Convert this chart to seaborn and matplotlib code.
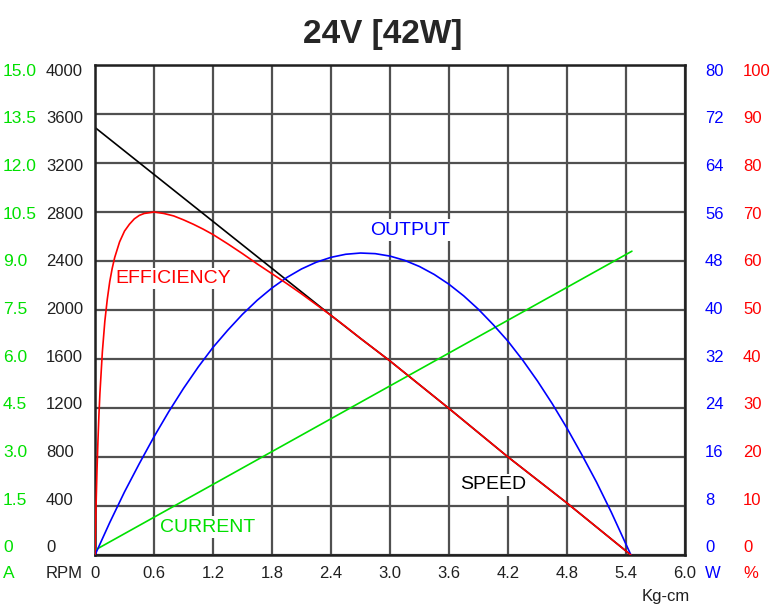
import matplotlib
matplotlib.use("Agg")
import matplotlib.pyplot as plt
import matplotlib.transforms as mtransforms
import seaborn as sns

# values (torque in Kg-cm)
torque_speed = [0.0, 2.4, 2.7, 3.0, 3.6, 4.2, 4.8, 5.45]
speed_rpm = [3490, 1956, 1768, 1584, 1196, 800, 424, 0]

torque_current = [0.0, 5.46]
current_a = [0.15, 9.3]

torque_output = [0.0, 0.15, 0.3, 0.45, 0.6, 0.75, 0.9, 1.05, 1.2, 1.35, 1.5,
                 1.65, 1.8, 1.95, 2.1, 2.25, 2.4, 2.55, 2.7, 2.85, 3.0, 3.15,
                 3.3, 3.45, 3.6, 3.75, 3.9, 4.05, 4.2, 4.35, 4.5, 4.65, 4.8,
                 4.95, 5.1, 5.25, 5.35, 5.45]
output_w = [0.0, 5.3, 10.3, 14.9, 19.3, 23.4, 27.2, 30.7, 33.9, 36.7, 39.3,
            41.6, 43.6, 45.3, 46.7, 47.8, 48.6, 49.1, 49.3, 49.2, 48.8, 48.1,
            47.1, 45.8, 44.2, 42.3, 40.1, 37.6, 34.9, 31.8, 28.4, 24.7, 20.7,
            16.4, 11.9, 7.0, 3.5, 0.0]

torque_eff = [0.0, 0.005, 0.01, 0.02, 0.03, 0.04, 0.05, 0.075, 0.1, 0.125,
              0.15, 0.175, 0.2, 0.25, 0.3, 0.35, 0.4, 0.45, 0.5, 0.6, 0.7,
              0.8, 0.9, 1.0, 1.1, 1.2, 1.35, 1.5, 1.65, 1.8, 1.95, 2.1, 2.25,
              2.4, 2.55, 2.7, 3.0, 3.6, 4.2, 4.8, 5.45]
eff_pct = [0.0, 5.0, 9.5, 17.1, 23.3, 28.6, 33.0, 41.5, 47.7, 52.2,
           55.8, 58.5, 60.7, 63.9, 66.1, 67.5, 68.6, 69.3, 69.7, 70.0, 69.7,
           69.2, 68.4, 67.5, 66.5, 65.4, 63.5, 61.5, 59.4, 57.4, 55.4, 53.3, 51.1,
           48.9, 46.6, 44.2, 39.6, 29.9, 20.0, 10.6, 0.0]

x_ticks = [0, 0.6, 1.2, 1.8, 2.4, 3.0, 3.6, 4.2, 4.8, 5.4, 6.0]
x_labels = ["0", "0.6", "1.2", "1.8", "2.4", "3.0", "3.6", "4.2", "4.8", "5.4", "6.0"]
rpm_ticks = [0, 400, 800, 1200, 1600, 2000, 2400, 2800, 3200, 3600, 4000]
amp_labels = ["0", "1.5", "3.0", "4.5", "6.0", "7.5", "9.0", "10.5", "12.0", "13.5", "15.0"]
watt_labels = ["0", "8", "16", "24", "32", "40", "48", "56", "64", "72", "80"]
pct_labels = ["0", "10", "20", "30", "40", "50", "60", "70", "80", "90", "100"]

GREEN = "#00e000"
BLUE = "#0000ff"
RED = "#ff0000"
GRID = "#505050"
INK = "#202020"

sns.set_style("white")
plt.rcParams["font.family"] = ["Liberation Sans", "DejaVu Sans"]
NARROW = ["DejaVu Sans Condensed", "Liberation Sans", "DejaVu Sans"]

fig = plt.figure(figsize=(7.76, 6.11), dpi=100)
ax = fig.add_axes([95 / 776, 1 - 555 / 611, 590 / 776, 490 / 611])
ax.set_xlim(0, 6.0)
ax.set_ylim(0, 4000)
ax.set_xticks(x_ticks)
ax.set_yticks(rpm_ticks)
ax.tick_params(length=0, labelbottom=False, labelleft=False)
ax.grid(True, color=GRID, lw=1.6)
for sp in ax.spines.values():
    sp.set_color(INK)
    sp.set_linewidth(1.8)


# one hidden axis per scale so each series uses its own units
def scale_axis(top):
    a = ax.twinx()
    a.set_ylim(0, top)
    a.set_xlim(0, 6.0)
    a.axis("off")
    return a


ax_amp = scale_axis(15)
ax_watt = scale_axis(80)
ax_pct = scale_axis(100)

sns.lineplot(x=torque_speed, y=speed_rpm, ax=ax, color="black", lw=1.2)
sns.lineplot(x=torque_current, y=current_a, ax=ax_amp, color=GREEN, lw=1.2)
sns.lineplot(x=torque_output, y=output_w, ax=ax_watt, color=BLUE, lw=1.2)
sns.lineplot(x=torque_eff, y=eff_pct, ax=ax_pct, color=RED, lw=1.2)

box = dict(facecolor="white", edgecolor="none", pad=1.5)
ax_pct.text(0.21, 56.5, "EFFICIENCY", color=RED, fontsize=14, family=NARROW,
            va="center", ha="left", bbox=box)
ax_pct.text(2.8, 66.3, "OUTPUT", color=BLUE, fontsize=14, family=NARROW,
            va="center", ha="left", bbox=box)
ax_pct.text(3.71, 14.3, "SPEED", color="black", fontsize=14, family=NARROW,
            va="center", ha="left", bbox=box)
ax_pct.text(0.66, 5.7, "CURRENT", color=GREEN, fontsize=14, family=NARROW,
            va="center", ha="left", bbox=box)

# tick label columns (labels sit slightly inside the grid spacing)
for r, a, w, p in zip(rpm_ticks, amp_labels, watt_labels, pct_labels):
    fy = 1 - (548 - r * 477 / 4000) / 611
    fig.text(3 / 776, fy, a, color=GREEN, fontsize=12.5, ha="left", va="center")
    fig.text(46 / 776, fy, str(r), color=INK, fontsize=12, ha="left", va="center")
    fig.text(705 / 776, fy, w, color=BLUE, fontsize=12, ha="left", va="center")
    fig.text(743 / 776, fy, p, color=RED, fontsize=12, ha="left", va="center")

row = mtransforms.blended_transform_factory(ax.transData, fig.transFigure)
for x, lab in zip(x_ticks, x_labels):
    ax.text(x, 1 - 574 / 611, lab, transform=row, color=INK, fontsize=12,
            ha="center", va="center")

fy = 1 - 574 / 611
fig.text(3 / 776, fy, "A", color=GREEN, fontsize=12.5, ha="left", va="center")
fig.text(46 / 776, fy, "RPM", color=INK, fontsize=12, ha="left", va="center")
fig.text(705 / 776, fy, "W", color=BLUE, fontsize=12, ha="left", va="center")
fig.text(743 / 776, fy, "%", color=RED, fontsize=12, ha="left", va="center")
fig.text(690 / 776, 1 - 597 / 611, "Kg-cm", color=INK, fontsize=12,
         ha="right", va="center")

fig.text(383 / 776, 1 - 35 / 611, "24V [42W]", fontsize=24, fontweight="bold",
         ha="center", va="center")

fig.savefig("out.png", dpi=100)
